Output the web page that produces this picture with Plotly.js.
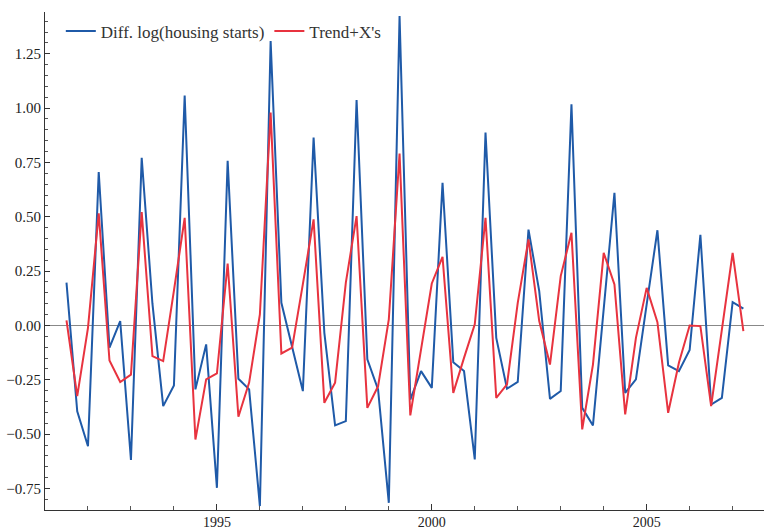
<!DOCTYPE html>
<html>
<head>
<meta charset="utf-8">
<script src="https://cdn.plot.ly/plotly-3.0.1.min.js"></script>
<style>html,body{margin:0;padding:0;background:#fff;}#chart{width:764px;height:530px;}</style>
</head>
<body>
<div id="chart"></div>
<script>
// Quarterly observations starting 1991.5, step 0.25
var startYear = 1991.5;
var step = 0.25;

var diffLogHousingStarts = [
  0.197, -0.395, -0.556, 0.706, -0.102, 0.020, -0.619, 0.771,
  0.100, -0.371, -0.276, 1.058, -0.294, -0.087, -0.747, 0.757,
  -0.245, -0.294, -0.831, 1.308, 0.104, -0.100, -0.302, 0.864,
  -0.034, -0.460, -0.440, 1.037, -0.156, -0.294, -0.816, 1.423,
  -0.341, -0.210, -0.287, 0.656, -0.169, -0.210, -0.616, 0.887,
  -0.057, -0.291, -0.260, 0.441, 0.158, -0.338, -0.302, 1.017,
  -0.379, -0.460, 0.070, 0.610, -0.310, -0.248, 0.097, 0.438,
  -0.184, -0.210, -0.113, 0.417, -0.364, -0.333, 0.107, 0.077
];

var trendPlusXs = [
  0.023, -0.325, -0.011, 0.516, -0.161, -0.260, -0.226, 0.522,
  -0.141, -0.164, 0.160, 0.495, -0.525, -0.248, -0.221, 0.285,
  -0.420, -0.263, 0.051, 0.979, -0.129, -0.102, 0.190, 0.488,
  -0.356, -0.263, 0.197, 0.503, -0.379, -0.280, 0.028, 0.791,
  -0.414, -0.110, 0.193, 0.316, -0.310, -0.149, 0.005, 0.495,
  -0.333, -0.271, 0.104, 0.396, 0.020, -0.180, 0.227, 0.426,
  -0.478, -0.180, 0.334, 0.189, -0.409, -0.057, 0.173, 0.015,
  -0.402, -0.172, 0.000, -0.003, -0.371, -0.019, 0.334, -0.026
];

var seriesNames = ["Diff. log(housing starts)", "Trend+X's"];
var xTickVals = [1995, 2000, 2005];
var xTickText = ["1995", "2000", "2005"];
var yTickVals = [-0.75, -0.5, -0.25, 0, 0.25, 0.5, 0.75, 1.0, 1.25];

var dates = diffLogHousingStarts.map(function(_, i){ return startYear + step * i; });

var font = "Liberation Serif, Times New Roman, serif";

var traces = [
  {x: dates, y: diffLogHousingStarts, type: "scatter", mode: "lines", name: seriesNames[0],
   line: {color: "#1f5aa8", width: 2}},
  {x: dates, y: trendPlusXs, type: "scatter", mode: "lines", name: seriesNames[1],
   line: {color: "#e8333f", width: 2}}
];

var layout = {
  width: 764, height: 530,
  margin: {l: 45, r: 0, t: 12, b: 20, pad: 0},
  paper_bgcolor: "#fff", plot_bgcolor: "#fff",
  font: {family: font, size: 14, color: "#333"},
  showlegend: true,
  legend: {orientation: "h", x: 0.022, y: 0.997, xanchor: "left", yanchor: "top",
           bgcolor: "rgba(0,0,0,0)", font: {family: font, size: 17, color: "#333"},
           itemwidth: 30, tracegroupgap: 0},
  xaxis: {range: [1991, 2007.73], showgrid: false, zeroline: false,
          showline: true, linecolor: "#333", linewidth: 1,
          tickmode: "array", tickvals: xTickVals, ticktext: xTickText,
          ticks: "inside", ticklen: 6, tickcolor: "#333", tickwidth: 1,
          ticklabelstandoff: -1,
          minor: {dtick: 1, tick0: 1991, ticks: "inside", ticklen: 4, tickcolor: "#555", showgrid: false},
          tickfont: {family: font, size: 14, color: "#222"}},
  yaxis: {range: [-0.849, 1.442], showgrid: false, zeroline: true, zerolinecolor: "#888", zerolinewidth: 1,
          showline: true, linecolor: "#333", linewidth: 1,
          tickmode: "array", tickvals: yTickVals, tickformat: ".2f",
          ticks: "inside", ticklen: 5, tickcolor: "#333", tickwidth: 1,
          minor: {dtick: 0.05, tick0: 0, ticks: "inside", ticklen: 3, tickcolor: "#555", showgrid: false},
          tickfont: {family: font, size: 15, color: "#222"}}
};

Plotly.newPlot("chart", traces, layout, {staticPlot: true, displayModeBar: false});
</script>
</body>
</html>
